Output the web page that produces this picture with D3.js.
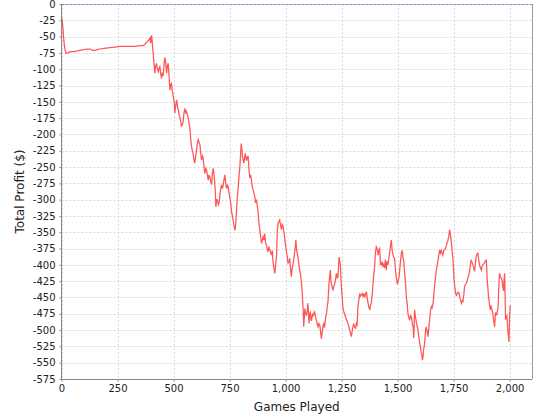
<!DOCTYPE html>
<html>
<head>
<meta charset="utf-8">
<script src="https://cdn.jsdelivr.net/npm/d3@7"></script>
<style>
  html, body { margin: 0; padding: 0; background: #ffffff; }
  svg { display: block; }
  text { font-family: "DejaVu Sans", sans-serif; }
</style>
</head>
<body>
<svg id="chart" width="540" height="420"></svg>
<script>
// ---- Data ----
const games = [
  0,3,6,9,12,16,20,30,40,55,70,82,100,115,127,140,150,160,172,190,216,240,261,280,305,330,350,363,372,381,388,395,398,402,405,407,410,412,415,417,
  420,424,428,432,436,439,443,447,450,454,458,461,465,469,472,476,480,484,487,491,495,499,503,506,510,514,518,521,525,528,532,536,540,543,547,551,555,558,562,565,
  569,573,576,580,584,588,591,595,599,603,606,610,614,618,621,625,629,632,636,640,644,647,651,655,658,662,666,670,673,677,681,684,687,689,692,695,700,704,707,710,
  714,718,721,725,729,733,737,741,744,748,751,755,759,763,766,770,774,778,781,784,787,790,793,796,799,802,805,808,811,814,817,820,823,826,830,833,837,841,844,848,
  851,855,859,863,866,870,874,878,881,885,889,893,896,900,904,907,911,915,918,922,926,930,933,937,941,944,948,952,956,960,963,967,971,974,978,982,985,989,993,997,
  1000,1004,1008,1011,1015,1019,1022,1026,1030,1034,1038,1041,1044,1046,1049,1051,1054,1056,1060,1063,1067,1071,1074,1076,1079,1081,1084,1086,1090,1093,1097,1100,1103,1105,1108,1111,1114,1116,1120,1123,
  1127,1130,1134,1138,1141,1145,1149,1153,1157,1160,1163,1165,1168,1171,1173,1175,1179,1183,1186,1190,1194,1197,1200,1203,1205,1209,1212,1216,1220,1224,1227,1231,1234,1237,1239,1242,1245,1247,1249,1253,
  1257,1260,1264,1268,1272,1275,1279,1283,1286,1290,1294,1298,1301,1304,1308,1313,1316,1319,1321,1323,1327,1331,1335,1339,1343,1346,1350,1353,1357,1361,1364,1368,1372,1376,1379,1383,1387,1390,1394,1398,
  1401,1405,1409,1413,1417,1420,1424,1428,1431,1435,1439,1442,1446,1450,1453,1457,1461,1465,1468,1472,1476,1480,1483,1487,1491,1495,1499,1502,1506,1509,1513,1517,1521,1524,1527,1530,1532,1536,1539,1543,
  1546,1550,1554,1558,1562,1566,1569,1572,1574,1576,1580,1584,1588,1591,1595,1599,1603,1606,1609,1611,1614,1616,1619,1622,1625,1628,1632,1636,1640,1643,1647,1651,1654,1658,1662,1665,1669,1673,1677,1680,
  1684,1688,1691,1695,1699,1702,1706,1710,1714,1718,1721,1725,1729,1732,1735,1737,1740,1743,1747,1750,1752,1756,1759,1763,1765,1770,1774,1778,1782,1785,1789,1792,1796,1799,1803,1807,1811,1814,1818,1822,
  1825,1829,1833,1836,1840,1844,1848,1851,1855,1859,1862,1866,1870,1874,1877,1881,1885,1888,1892,1896,1898,1900,1903,1906,1910,1914,1916,1918,1922,1925,1929,1933,1935,1937,1940,1943,1946,1948,1950,1952,
  1955,1959,1963,1967,1970,1973,1975,1978,1980,1982,1985,1988,1990,1992,1995,1997,2000,2003
];
const profit = [
  -20,-24,-35,-50,-62,-70,-76,-75,-73,-73,-72,-71,-70,-69,-69,-71,-71,-70,-69,-68,-67,-66,-65,-65,-65,-65,-64,-64,-62,-58,-56,-52,-60,-48,-58,-68,-78,-88,-100,-106,
  -95,-91,-100,-104,-98,-96,-108,-114,-105,-110,-92,-82,-90,-106,-96,-91,-110,-132,-124,-122,-134,-142,-150,-167,-155,-147,-158,-162,-170,-173,-180,-188,-184,-180,-166,-160,-168,-165,-170,-173,
  -182,-190,-205,-218,-225,-231,-238,-244,-232,-224,-215,-208,-212,-216,-228,-239,-233,-236,-250,-260,-252,-254,-262,-270,-262,-266,-272,-277,-262,-252,-262,-275,-292,-311,-300,-300,-308,-305,-292,-285,
  -277,-282,-280,-270,-262,-275,-283,-278,-280,-290,-296,-305,-318,-326,-331,-340,-347,-336,-318,-300,-288,-275,-262,-250,-232,-214,-222,-234,-240,-244,-236,-229,-236,-240,-234,-234,-255,-267,-262,-270,
  -280,-285,-290,-296,-305,-300,-310,-320,-335,-346,-357,-367,-362,-357,-362,-352,-366,-370,-375,-380,-372,-377,-380,-385,-378,-395,-405,-413,-400,-385,-350,-336,-333,-331,-340,-346,-338,-341,-350,-362,
  -370,-380,-388,-397,-395,-390,-405,-418,-405,-398,-388,-380,-370,-362,-375,-380,-385,-390,-400,-408,-415,-428,-440,-454,-470,-495,-480,-467,-475,-478,-470,-459,-480,-490,-475,-473,-485,-485,-476,-478,
  -474,-472,-480,-485,-490,-495,-490,-492,-505,-513,-505,-500,-492,-490,-495,-494,-480,-474,-465,-454,-428,-418,-408,-425,-430,-435,-438,-432,-428,-420,-413,-420,-418,-400,-388,-395,-400,-418,-433,-450,
  -469,-472,-476,-480,-484,-486,-490,-495,-500,-505,-510,-500,-495,-490,-495,-497,-490,-492,-480,-464,-455,-444,-448,-446,-444,-448,-444,-450,-445,-441,-450,-458,-465,-469,-462,-458,-445,-430,-415,-400,
  -382,-372,-375,-385,-377,-375,-400,-400,-395,-402,-398,-405,-392,-408,-395,-400,-390,-380,-372,-362,-378,-385,-388,-390,-410,-420,-430,-425,-420,-410,-395,-382,-378,-390,-392,-405,-415,-430,-449,-460,
  -474,-480,-485,-478,-480,-490,-495,-512,-495,-469,-480,-488,-495,-500,-510,-520,-528,-535,-540,-546,-540,-530,-525,-515,-500,-495,-502,-510,-495,-485,-470,-464,-466,-460,-445,-433,-420,-408,-400,-395,
  -385,-377,-382,-378,-382,-385,-378,-377,-375,-370,-366,-362,-355,-346,-352,-357,-365,-377,-390,-408,-423,-435,-443,-448,-445,-442,-443,-450,-455,-459,-455,-456,-445,-433,-430,-428,-424,-420,-415,-408,
  -400,-392,-397,-400,-405,-410,-395,-387,-383,-382,-392,-400,-405,-408,-402,-400,-398,-397,-394,-393,-405,-423,-435,-449,-460,-469,-462,-464,-470,-474,-485,-495,-485,-473,-477,-476,-470,-468,-450,-433,
  -413,-418,-420,-425,-434,-440,-425,-413,-450,-484,-480,-478,-490,-500,-510,-518,-480,-462
];
const xTicks = [0, 250, 500, 750, 1000, 1250, 1500, 1750, 2000];
const yTicks = [0,-25,-50,-75,-100,-125,-150,-175,-200,-225,-250,-275,-300,-325,-350,-375,-400,-425,-450,-475,-500,-525,-550,-575];
const xLabel = "Games Played";
const yLabel = "Total Profit ($)";

// ---- Layout ----
const plot = { left: 61.5, right: 532, top: 4, bottom: 379 };
const svg = d3.select("#chart");

const x = d3.scaleLinear().domain([0, 2100]).range([plot.left, plot.right]);
const y = d3.scaleLinear().domain([-575, 0]).range([plot.bottom, plot.top]);

// plot background
svg.append("rect")
  .attr("x", plot.left).attr("y", plot.top)
  .attr("width", plot.right - plot.left).attr("height", plot.bottom - plot.top)
  .attr("fill", "#ffffff");

// gridlines
const grid = svg.append("g");
grid.selectAll("line.v").data(xTicks).enter().append("line")
  .attr("x1", d => Math.round(x(d)) + 0.5).attr("x2", d => Math.round(x(d)) + 0.5)
  .attr("y1", plot.top).attr("y2", plot.bottom)
  .attr("stroke", "#d8d8d8").attr("stroke-width", 1).attr("stroke-dasharray", "2,2");
grid.selectAll("line.h").data(yTicks).enter().append("line")
  .attr("x1", plot.left).attr("x2", plot.right)
  .attr("y1", d => Math.round(y(d)) + 0.5).attr("y2", d => Math.round(y(d)) + 0.5)
  .attr("stroke", "#d8d8d8").attr("stroke-width", 1).attr("stroke-dasharray", "2,2");

// zero line (top)
svg.append("line")
  .attr("x1", plot.left).attr("x2", plot.right)
  .attr("y1", Math.round(y(0)) + 0.5).attr("y2", Math.round(y(0)) + 0.5)
  .attr("stroke", "#8c8cc8").attr("stroke-width", 1).attr("stroke-dasharray", "3,1");

// right border
svg.append("line")
  .attr("x1", plot.right + 0.5).attr("x2", plot.right + 0.5)
  .attr("y1", plot.top).attr("y2", plot.bottom)
  .attr("stroke", "#9a9a9a");

// data line
const pts = games.map((g, i) => [g, profit[i]]);
svg.append("path")
  .datum(pts)
  .attr("fill", "none")
  .attr("stroke", "#ff5555")
  .attr("stroke-width", 1.25)
  .attr("stroke-linejoin", "miter")
  .attr("d", d3.line().x(d => x(d[0])).y(d => y(d[1])));

// axes
const fmt = d => d3.format(",")(d).replace("\u2212", "-");
const xAxis = svg.append("g")
  .attr("transform", `translate(0,${Math.round(plot.bottom) + 0.5})`)
  .call(d3.axisBottom(x).tickValues(xTicks).tickFormat(fmt).tickSize(2).tickPadding(3));
const yAxis = svg.append("g")
  .attr("transform", `translate(${Math.floor(plot.left) + 0.5},0)`)
  .call(d3.axisLeft(y).tickValues(yTicks).tickFormat(fmt).tickSize(2).tickPadding(4));

[xAxis, yAxis].forEach(a => {
  a.select(".domain").attr("stroke", "#888888");
  a.selectAll(".tick line").attr("stroke", "#888888");
  a.selectAll(".tick text").attr("fill", "#222222")
    .style("font-family", "'DejaVu Sans', sans-serif").style("font-size", "10px");
});
xAxis.select(".domain").attr("d", `M${plot.left},0H${plot.right}`);
yAxis.select(".domain").attr("d", `M0,${plot.top}V${plot.bottom}`);

// axis labels
svg.append("text")
  .attr("x", (plot.left + plot.right) / 2)
  .attr("y", 411)
  .attr("text-anchor", "middle")
  .attr("fill", "#222222")
  .style("font-size", "12px")
  .text(xLabel);
svg.append("text")
  .attr("transform", `translate(24,${(plot.top + plot.bottom) / 2}) rotate(-90)`)
  .attr("text-anchor", "middle")
  .attr("fill", "#222222")
  .style("font-size", "12px")
  .text(yLabel);
</script>
</body>
</html>
